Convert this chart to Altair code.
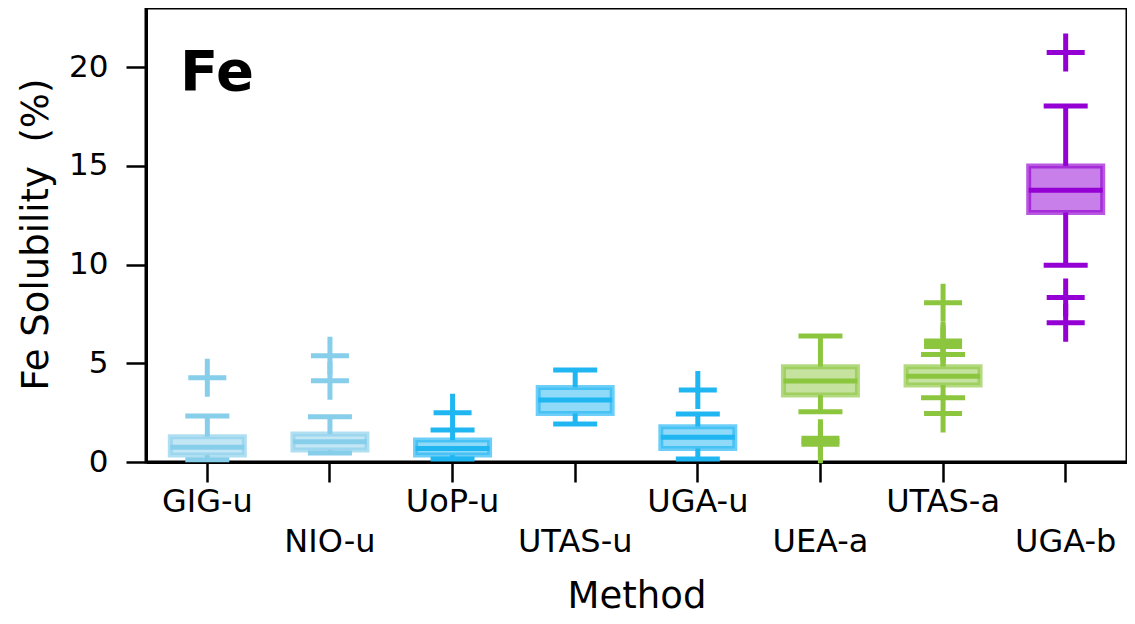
import altair as alt
import pandas as pd

categories = ["GIG-u", "NIO-u", "UoP-u", "UTAS-u", "UGA-u", "UEA-a", "UTAS-a", "UGA-b"]
colors = ["#87CEEB", "#87CEEB", "#1FB6F2", "#1FB6F2", "#1FB6F2", "#8CC63E", "#8CC63E", "#9400D3"]

whisker_lo = [0.12, 0.45, 0.15, 1.92, 0.15, 2.55, 3.26, 9.97]
q1 = [0.35, 0.61, 0.35, 2.46, 0.69, 3.39, 3.90, 12.64]
median = [0.75, 1.03, 0.69, 3.14, 1.25, 4.10, 4.35, 13.77]
q3 = [1.28, 1.42, 1.11, 3.78, 1.79, 4.83, 4.83, 15.00]
whisker_hi = [2.33, 2.29, 1.62, 4.66, 2.43, 6.38, 5.45, 18.03]

outlier_cat = ["GIG-u", "NIO-u", "NIO-u", "UoP-u", "UGA-u",
               "UEA-a", "UEA-a", "UEA-a",
               "UTAS-a", "UTAS-a", "UTAS-a", "UTAS-a", "UTAS-a",
               "UGA-b", "UGA-b", "UGA-b"]
outlier_val = [4.27, 5.38, 4.12, 2.50, 3.65,
               1.20, 1.05, 0.90,
               8.07, 6.13, 6.00, 5.85, 2.46,
               20.74, 8.34, 7.05]

y_ticks = [0, 5, 10, 15, 20]

box_df = pd.DataFrame({"Method": categories, "lo": whisker_lo, "q1": q1,
                       "med": median, "q3": q3, "hi": whisker_hi})
out_df = pd.DataFrame({"Method": outlier_cat, "val": outlier_val})

FONT = "DejaVu Sans"
cat_list = "[" + ",".join("'" + c + "'" for c in categories) + "]"

xenc = alt.X("Method:N", sort=categories,
             scale=alt.Scale(domain=categories, paddingInner=0, paddingOuter=0),
             axis=alt.Axis(title="Method", labelAngle=0, tickSize=20, tickWidth=2.5,
                           labelFontSize=32, labelPadding=4, labelLineHeight=40,
                           labelExpr=f"indexof({cat_list}, datum.label) % 2 == 1 ? [' ', datum.label] : datum.label",
                           titleFontSize=37, titleFontWeight="normal",
                           titleY=145, titleBaseline="alphabetic",
                           domainWidth=3, labelColor="black", tickColor="black",
                           domainColor="black", titleColor="black", grid=False,
                           labelFont=FONT, titleFont=FONT))
yscale = alt.Scale(domain=[0, 23], nice=False)
yaxis = alt.Axis(title="Fe Solubility\u00a0 (%)", values=y_ticks, tickSize=20, tickWidth=2.5,
                 labelFontSize=31, labelPadding=18, titleFontSize=37, titleFontWeight="normal",
                 titleAngle=270, titleX=-110, titleY=226, titleAlign="center",
                 titleBaseline="middle",
                 domainWidth=3, labelColor="black", tickColor="black",
                 domainColor="black", titleColor="black", grid=False,
                 labelFont=FONT, titleFont=FONT)

cscale = alt.Scale(domain=categories, range=colors)

base = alt.Chart(box_df)

whisk_low = base.mark_rule(strokeWidth=5).encode(
    x=xenc, y=alt.Y("lo:Q", scale=yscale, axis=yaxis), y2="q1:Q",
    color=alt.Color("Method:N", scale=cscale, legend=None))
whisk_high = base.mark_rule(strokeWidth=5).encode(
    x=xenc, y=alt.Y("q3:Q", scale=yscale, axis=yaxis), y2="hi:Q",
    color=alt.Color("Method:N", scale=cscale, legend=None))
box = base.mark_bar(size=74, fillOpacity=0.5, strokeOpacity=0.65, strokeWidth=5).encode(
    x=xenc, y=alt.Y("q1:Q", scale=yscale, axis=yaxis), y2="q3:Q",
    fill=alt.Fill("Method:N", scale=cscale, legend=None),
    stroke=alt.Stroke("Method:N", scale=cscale, legend=None))
med = base.mark_tick(size=74, thickness=5, opacity=1).encode(
    x=xenc, y=alt.Y("med:Q", scale=yscale, axis=yaxis),
    color=alt.Color("Method:N", scale=cscale, legend=None))
cap_lo = base.mark_tick(size=44, thickness=5, opacity=1).encode(
    x=xenc, y=alt.Y("lo:Q", scale=yscale, axis=yaxis),
    color=alt.Color("Method:N", scale=cscale, legend=None))
cap_hi = base.mark_tick(size=44, thickness=5, opacity=1).encode(
    x=xenc, y=alt.Y("hi:Q", scale=yscale, axis=yaxis),
    color=alt.Color("Method:N", scale=cscale, legend=None))
outliers = alt.Chart(out_df).mark_point(
    shape="M-1,0L1,0M0,-1L0,1", size=1444, strokeWidth=5, filled=False, opacity=1
).encode(
    x=xenc, y=alt.Y("val:Q", scale=yscale, axis=yaxis),
    stroke=alt.Stroke("Method:N", scale=cscale, legend=None))

label = alt.Chart(pd.DataFrame({"t": ["Fe"]})).mark_text(
    font=FONT, fontSize=56, fontWeight="bold", align="left", baseline="alphabetic",
    color="black"
).encode(text="t:N", x=alt.value(34), y=alt.value(82))

chart = alt.layer(whisk_low, whisk_high, box, med, cap_lo, cap_hi, outliers, label).properties(
    width=981, height=454,
    autosize=alt.AutoSizeParams(type="none"),
    padding={"left": 138, "top": 0, "right": 0, "bottom": 154},
    background="white",
).configure_view(stroke="black", strokeWidth=3, strokeOpacity=1)

chart.save("out.html", embed_options={"renderer": "svg", "actions": False})
